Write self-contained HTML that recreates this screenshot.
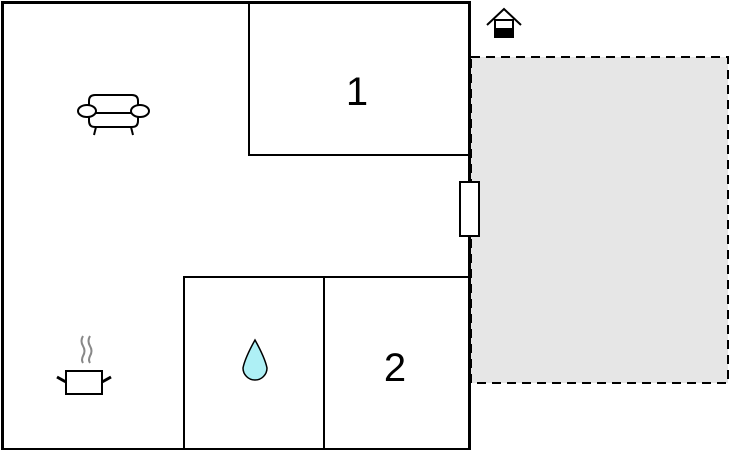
<!DOCTYPE html>
<html><head><style>body{margin:0;background:#fff}svg{display:block}</style></head><body>
<svg width="730" height="450" xmlns="http://www.w3.org/2000/svg">
<rect x="471" y="57" width="257" height="326" fill="#e6e6e6" stroke="#000" stroke-width="2" stroke-dasharray="9,6"/>
<rect x="2.5" y="2.5" width="467" height="447" fill="#fff" stroke="#000" stroke-width="3"/>
<g stroke="#000" stroke-width="2" fill="none">
<polyline points="249,2 249,155 470,155"/>
<polyline points="184,449 184,277 470,277"/>
<line x1="324" y1="277" x2="324" y2="449"/>
</g>
<rect x="460" y="182" width="19" height="54" fill="#fff" stroke="#000" stroke-width="2"/>
<text x="357" y="105" font-family="Liberation Sans, sans-serif" font-size="40" text-anchor="middle">1</text>
<text x="395" y="381" font-family="Liberation Sans, sans-serif" font-size="40" text-anchor="middle">2</text>
<!-- sofa -->
<g stroke="#000" stroke-width="2" fill="#fff">
<path d="M89,111 L89,101 Q89,95 95,95 L132,95 Q138,95 138,101 L138,111"/>
<path d="M89,113 L89,121 Q89,127 95,127 L132,127 Q138,127 138,121 L138,113"/>
<line x1="96" y1="127" x2="94" y2="135"/><line x1="131" y1="127" x2="133" y2="135"/>
<ellipse cx="87" cy="111" rx="9" ry="6"/><ellipse cx="140" cy="111" rx="9" ry="6"/>
<line x1="96" y1="113" x2="131" y2="113"/>
</g>
<!-- pot -->
<g stroke="#888" stroke-width="2" fill="none">
<path d="M83,336 q-3,5 0,10 q3,5 0,10 q-2,4 0,7"/>
<path d="M90,336 q-3,5 0,10 q3,5 0,10 q-2,4 0,7"/>
</g>
<rect x="66" y="371" width="36" height="23" fill="#fff" stroke="#000" stroke-width="2"/>
<line x1="57" y1="377" x2="66" y2="382" stroke="#000" stroke-width="3"/>
<line x1="102" y1="382" x2="111" y2="377" stroke="#000" stroke-width="3"/>
<!-- drop -->
<path d="M255,340 Q245,358 243,368 A12,12 0 0 0 267,368 Q265,358 255,340 Z" fill="#aef0f5" stroke="#000" stroke-width="1.5"/>
<!-- house -->
<polyline points="487,25 504,9 521,25" fill="none" stroke="#000" stroke-width="2"/>
<rect x="495" y="20" width="18" height="17" fill="#fff" stroke="#000" stroke-width="2"/>
<rect x="495" y="28" width="18" height="9" fill="#000"/>
</svg>
</body></html>
